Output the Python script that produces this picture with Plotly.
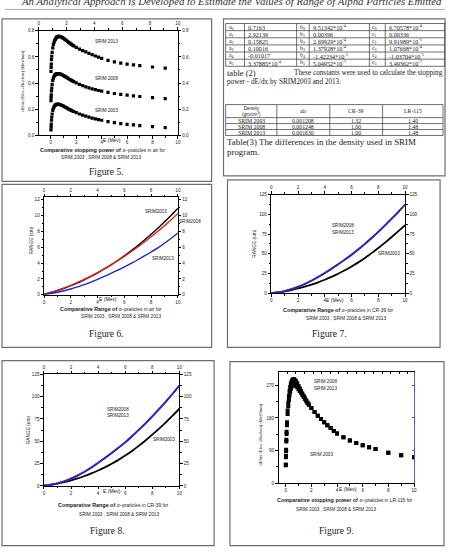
import plotly.graph_objects as go

W, H = 451, 552
SANS = "Liberation Sans, Arial, sans-serif"
SERIF = "Liberation Serif, Times New Roman, serif"

# ---------------- data ----------------
# Figure 5: stopping power of alpha particles in air (offset curves)
E_air = [0.01, 0.02, 0.03, 0.05, 0.07, 0.1, 0.15, 0.2, 0.25, 0.3, 0.35, 0.4, 0.45, 0.5,
         0.55, 0.6, 0.65, 0.7, 0.8, 0.9, 1.0, 1.1, 1.2, 1.3, 1.4, 1.5, 1.6, 1.7, 1.8, 2.0,
         2.25, 2.5, 2.75, 3.0, 3.25, 3.5, 3.75, 4.0, 4.5, 5.0, 5.5, 6.0, 6.5, 7.0, 8.0, 9.0]
air_2013 = [0.49, 0.52, 0.545, 0.58, 0.605, 0.635, 0.67, 0.695, 0.712, 0.725, 0.735, 0.743,
            0.749, 0.753, 0.756, 0.757, 0.757, 0.756, 0.753, 0.748, 0.742, 0.735, 0.728, 0.72,
            0.712, 0.705, 0.698, 0.691, 0.685, 0.673, 0.66, 0.649, 0.638, 0.627, 0.617, 0.607,
            0.598, 0.589, 0.574, 0.562, 0.552, 0.545, 0.539, 0.534, 0.523, 0.515]
air_2008 = [0.265, 0.29, 0.31, 0.34, 0.362, 0.39, 0.42, 0.438, 0.45, 0.458, 0.464, 0.468,
            0.47, 0.471, 0.472, 0.472, 0.471, 0.47, 0.467, 0.462, 0.457, 0.451, 0.445, 0.439,
            0.433, 0.427, 0.421, 0.416, 0.411, 0.401, 0.39, 0.38, 0.371, 0.363, 0.356, 0.349,
            0.343, 0.338, 0.328, 0.32, 0.313, 0.307, 0.302, 0.297, 0.288, 0.281]
air_2003 = [0.042, 0.065, 0.085, 0.115, 0.138, 0.163, 0.19, 0.207, 0.218, 0.226, 0.231, 0.234,
            0.236, 0.237, 0.237, 0.237, 0.236, 0.235, 0.232, 0.228, 0.223, 0.218, 0.212, 0.207,
            0.201, 0.196, 0.191, 0.186, 0.182, 0.173, 0.163, 0.154, 0.146, 0.139, 0.132, 0.126,
            0.12, 0.115, 0.105, 0.097, 0.09, 0.084, 0.079, 0.074, 0.066, 0.059]

# Figure 6: range in air (cm)
E_rng = [0, 0.5, 1, 1.5, 2, 2.5, 3, 3.5, 4, 4.5, 5, 5.5, 6, 6.5, 7, 7.5, 8, 8.5, 9, 9.5, 10]
rng_air_2003 = [0.05, 0.29, 0.54, 0.83, 1.15, 1.51, 1.9, 2.32, 2.77, 3.26, 3.78, 4.33, 4.92,
                5.55, 6.2, 6.9, 7.63, 8.39, 9.2, 10.04, 10.9]
rng_air_2008 = [0.05, 0.3, 0.57, 0.87, 1.2, 1.56, 1.95, 2.37, 2.81, 3.28, 3.78, 4.3, 4.85,
                5.43, 6.03, 6.66, 7.32, 8.0, 8.72, 9.47, 10.25]
rng_air_2013 = [0.03, 0.17, 0.33, 0.52, 0.74, 1.0, 1.28, 1.6, 1.95, 2.32, 2.7, 3.1, 3.52,
                3.96, 4.42, 4.9, 5.4, 5.92, 6.5, 7.13, 7.8]

# Figures 7 and 8: range in CR-39 (um)
rng_cr_2003 = [0.3, 1.14, 2.5, 4.17, 6.16, 8.46, 11.07, 14.0, 17.24, 20.8, 24.77, 29.16, 33.97,
               39.2, 44.85, 50.91, 57.4, 64.2, 71.31, 78.74, 86.48]
rng_cr_2008 = [0.3, 1.3, 2.9, 5.2, 8.2, 11.8, 15.9, 20.6, 25.8, 31.2, 36.8, 42.7, 48.8, 55.6,
               62.7, 70.1, 77.8, 86.0, 94.5, 103.3, 112.5]
rng_cr_2013 = [0.3, 1.3, 2.9, 5.2, 8.2, 11.8, 15.9, 20.6, 25.8, 31.2, 36.8, 42.7, 48.8, 55.6,
               62.7, 70.1, 77.8, 86.0, 94.5, 103.3, 112.5]

# Figure 9: stopping power in LR-115 (MeV/mm)
E_lr = [0.01, 0.02, 0.03, 0.05, 0.07, 0.1, 0.15, 0.2, 0.25, 0.3, 0.35, 0.4, 0.45, 0.5,
        0.55, 0.6, 0.65, 0.7, 0.8, 0.9, 1.0, 1.1, 1.2, 1.3, 1.4, 1.5, 1.6, 1.7, 1.8, 2.0,
        2.25, 2.5, 2.75, 3.0, 3.25, 3.5, 3.75, 4.0, 4.5, 5.0, 5.5, 6.0, 6.5, 7.0, 8.0, 9.0, 10.0]
lr_2008 = [52, 75, 92, 120, 142, 168, 200, 222, 240, 254, 265, 273, 279, 283, 285, 286, 286,
           285, 281, 275, 268, 261, 254, 247, 240, 234, 228, 222, 217, 207, 196, 186, 177,
           168, 160, 152, 144, 137, 127, 118, 111, 105, 99.5, 94.5, 84, 77, 71.5]
lr_2013 = [50, 72, 88, 115, 136, 160, 191, 212, 229, 242, 252, 260, 265, 269, 271, 272, 272,
           271, 268, 264, 259, 254, 249, 243, 238, 232, 227, 221, 216, 207, 196, 186, 177,
           168, 160, 152, 144, 137, 127, 118, 111, 105, 99.5, 94.5, 84, 77, 71.5]

x_ticks = [0, 2, 4, 6, 8, 10]

# Table (2) constants
tab2_a_names = ["a<sub>0</sub>", "a<sub>1</sub>", "a<sub>2</sub>", "a<sub>3</sub>", "a<sub>4</sub>", "a<sub>5</sub>"]
tab2_a_vals = ["0.7163", "2.92139", "0.15825", "0.10016", "-0.01017", "3.37885*10<sup>-4</sup>"]
tab2_b_names = ["b<sub>0</sub>", "b<sub>1</sub>", "b<sub>2</sub>", "b<sub>3</sub>", "b<sub>4</sub>", "b<sub>5</sub>"]
tab2_b_vals = ["9.51342*10<sup>-4</sup>", "0.00396", "2.69929*10<sup>-4</sup>",
               "1.37928*10<sup>-4</sup>", "-1.42234*10<sup>-5</sup>", "5.04952*10<sup>-7</sup>"]
tab2_c_names = ["c<sub>0</sub>", "c<sub>1</sub>", "c<sub>2</sub>", "c<sub>3</sub>", "c<sub>4</sub>", "c<sub>5</sub>"]
tab2_c_vals = ["6.70578*10<sup>-4</sup>", "0.00336", "9.91989*10<sup>-5</sup>",
               "1.07668*10<sup>-4</sup>", "-1.03704*10<sup>-5</sup>", "3.49362*10<sup>-7</sup>"]

# Table (3) densities
tab3_header = ["Density<br>(gm/cm<sup>3</sup>)", "air", "CR-39", "LR-115"]
tab3_rows = ["SRIM 2003", "SRIM 2008", "SRIM 2013"]
tab3_air = ["0.001208", "0.001248", "0.001630"]
tab3_cr39 = ["1.32", "1.00", "1.00"]
tab3_lr115 = ["1.40", "1.48", "1.48"]

# ---------------- helpers ----------------
fig = go.Figure()
ann, shapes, lay = [], [], {}


def PX(x):
    return x / W


def PY(y):
    return 1 - y / H


def text(x, y, s, size, family=SANS, xa="center", ya="middle", angle=0, color="#1a1a1a"):
    ann.append(dict(x=PX(x), y=PY(y), xref="paper", yref="paper", text=s, showarrow=False,
                    font=dict(size=size, family=family, color=color), xanchor=xa, yanchor=ya,
                    textangle=angle, borderpad=0))


def line(x0, y0, x1, y1, color="#444", width=0.8):
    shapes.append(dict(type="line", xref="paper", yref="paper", x0=PX(x0), y0=PY(y0),
                       x1=PX(x1), y1=PY(y1), line=dict(color=color, width=width)))


def rect(l, t, r, b, color="#6e6e6e", width=1.2):
    shapes.append(dict(type="rect", xref="paper", yref="paper", x0=PX(l), x1=PX(r),
                       y0=PY(b), y1=PY(t), line=dict(color=color, width=width),
                       fillcolor="rgba(0,0,0,0)"))


def ref(c, n):
    return c if n == 1 else f"{c}{n}"


def key(c, n):
    return f"{c}axis" if n == 1 else f"{c}axis{n}"


def ax(**kw):
    d = dict(showline=True, linecolor="black", linewidth=0.9, showgrid=False, zeroline=False,
             ticks="outside", ticklen=2.5, tickwidth=0.8, tickcolor="black",
             tickfont=dict(size=4.6, family=SANS, color="#222"), fixedrange=True)
    d.update(kw)
    return d


def panel(i, L, R, T, B, xb_range, xt_range, y_range, y_dtick, y_minor, y_fmt="",
          top_kw=None, right_kw=None):
    nb, nt = 2 * i + 1, 2 * i + 2
    lay[key("x", nb)] = ax(domain=[PX(L), PX(R)], range=xb_range, anchor=ref("y", nb),
                           side="bottom", tickmode="array", tickvals=x_ticks,
                           minor=dict(ticks="outside", ticklen=1.5, dtick=1, tick0=0,
                                      tickcolor="black"))
    tkw = dict(range=xt_range, anchor=ref("y", nb), overlaying=ref("x", nb), side="top",
               tickmode="array", tickvals=x_ticks,
               minor=dict(ticks="outside", ticklen=1.5, dtick=1, tick0=0, tickcolor="black"))
    if top_kw:
        tkw.update(top_kw)
    lay[key("x", nt)] = ax(**tkw)
    lay[key("y", nb)] = ax(domain=[PY(B), PY(T)], range=y_range, anchor=ref("x", nb),
                           side="left", tick0=0, dtick=y_dtick, tickformat=y_fmt,
                           minor=dict(ticks="outside", ticklen=1.5, dtick=y_minor, tick0=0,
                                      tickcolor="black"))
    rkw = dict(range=y_range, anchor=ref("x", nb), overlaying=ref("y", nb), side="right",
               tick0=0, dtick=y_dtick, tickformat=y_fmt,
               minor=dict(ticks="outside", ticklen=1.5, dtick=y_minor, tick0=0,
                          tickcolor="black"))
    if right_kw:
        rkw.update(right_kw)
    lay[key("y", nt)] = ax(**rkw)
    fig.add_trace(go.Scatter(x=[xt_range[0]], y=[y_range[0]], mode="markers",
                             marker=dict(opacity=0), xaxis=ref("x", nt), yaxis=ref("y", nt),
                             hoverinfo="skip", showlegend=False))
    return ref("x", nb), ref("y", nb)


def caption(cx1, y1, bold, rest, cx2, y2, cxf, yf, label):
    text(cx1, y1, f"<b>{bold}</b> <span style='font-size:4.9px;font-weight:normal'>{rest}</span>", 5.4)
    text(cx2, y2, "SRIM 2003 , SRIM 2008 &amp; SRIM 2013", 4.7)
    text(cxf, yf, label, 9.6, SERIF)


# ---------------- header ----------------
text(233, -0.8, "<i>An Analytical Approach is Developed to Estimate the Values of Range of Alpha Particles Emitted</i>",
     10.8, SERIF, color="#333")
line(4, 7.5, 448, 7.5, color="#9a9a9a", width=0.8)

# ---------------- boxes ----------------
rect(1, 17, 212.5, 181)
rect(224.5, 17, 448, 175.5)
rect(1, 184, 212.5, 348.5)
rect(228.5, 179.5, 443, 348.5)
rect(1, 362, 215, 548.5)
rect(231, 363, 447, 548.5)

# ---------------- Figure 5 ----------------
xa_, ya_ = panel(0, 38, 178.5, 29, 134.5, [-0.96, 10], [0, 10], [0, 0.8005], 0.2, 0.1, ".1f")
for ser in (air_2013, air_2008, air_2003):
    fig.add_trace(go.Scatter(x=E_air, y=ser, mode="markers", xaxis=xa_, yaxis=ya_,
                             marker=dict(symbol="square", size=3.2, color="black", line=dict(width=0)),
                             showlegend=False, hoverinfo="skip"))
text(106, 40, "SRIM 2013", 4.6)
text(106, 77.3, "SRIM 2008", 4.6)
text(106, 109.3, "SRIM 2003", 4.6)
text(21.7, 80, "dE/dx (Elec.+Nuclear) (Mev/mm)", 4.2, angle=-90)
text(112, 139, "E (Mev)", 5)
caption(103, 149, "Comparative stopping power of", "α–praticles in air for", 101, 157, 106, 171, "Figure 5.")

# ---------------- Figure 6 ----------------
xa_, ya_ = panel(1, 43.5, 178.5, 197, 295.5, [0, 10], [0, 10], [0, 12.3], 2, 1)
for ser, col in ((rng_air_2003, "#000000"), (rng_air_2008, "#e3211c"), (rng_air_2013, "#1f22d4")):
    fig.add_trace(go.Scatter(x=E_rng, y=ser, mode="lines", xaxis=xa_, yaxis=ya_,
                             line=dict(color=col, width=1.4, shape="spline"),
                             showlegend=False, hoverinfo="skip"))
text(156.5, 211.3, "SRIM2003", 4.6)
text(191, 221.2, "SRIM2008", 4.6)
text(163, 258.7, "SRIM2013", 4.6)
text(31, 241, "RANGE (cm)", 4.8, angle=-90)
text(108, 299.5, "E (Mev)", 5)
caption(110.7, 310, "Comparative Range of", "α–praticles in air for", 121.3, 317.3, 106.3, 334.3, "Figure 6.")

# ---------------- Figure 7 ----------------
xa_, ya_ = panel(2, 272.7, 407.7, 194.3, 294, [0, 10], [0, 10], [0, 125.1], 25, 12.5)
for ser, col, w in ((rng_cr_2003, "#000000", 1.8), (rng_cr_2008, "#d0201c", 1.8), (rng_cr_2013, "#2b22d2", 1.8)):
    fig.add_trace(go.Scatter(x=E_rng, y=ser, mode="lines", xaxis=xa_, yaxis=ya_,
                             line=dict(color=col, width=w, shape="spline"),
                             showlegend=False, hoverinfo="skip"))
text(345, 225.7, "SRIM2008", 4.6)
text(345, 232.3, "SRIM2013", 4.6)
text(391.7, 254, "SRIM2003", 4.6)
text(255, 243.3, "RANGE (um)", 4.8, angle=-90)
text(337, 301, "E (Mev)", 5)
caption(340.7, 311, "Comparative Range of", "α–praticles in CR-39 for", 347.8, 319, 331, 334.3, "Figure 7.")

# ---------------- Figure 8 ----------------
xa_, ya_ = panel(3, 43.3, 180, 375.7, 488.3, [0, 10], [0, 10], [0, 125.1], 25, 12.5)
for ser, col, w in ((rng_cr_2003, "#000000", 1.8), (rng_cr_2008, "#d0201c", 1.8), (rng_cr_2013, "#2b22d2", 1.8)):
    fig.add_trace(go.Scatter(x=E_rng, y=ser, mode="lines", xaxis=xa_, yaxis=ya_,
                             line=dict(color=col, width=w, shape="spline"),
                             showlegend=False, hoverinfo="skip"))
text(118, 411, "SRIM2008", 4.6)
text(118, 417.7, "SRIM2013", 4.6)
text(164.7, 441.7, "SRIM2003", 4.6)
text(27.3, 432, "RANGE (um)", 4.8, angle=-90)
text(112, 493.3, "E (Mev)", 5)
caption(113.3, 507.3, "Comparative Range of", "α–praticles in CR-39 for", 119.5, 516.7, 107, 533.3, "Figure 8.")

# ---------------- Figure 9 ----------------
xa_, ya_ = panel(4, 280, 416.7, 373.3, 485.7, [-0.56, 10], [0, 15.7], [0, 306.5], 90, 45,
                 top_kw=dict(tickmode="linear", tick0=0, dtick=1, showticklabels=False,
                             ticks="inside", minor=dict(ticks="")),
                 right_kw=dict(showticklabels=False, linecolor="#5b52d6", tickcolor="#5b52d6",
                               ticks="inside", minor=dict(ticks="")))
for ser in (lr_2013, lr_2008):
    fig.add_trace(go.Scatter(x=E_lr, y=ser, mode="markers", xaxis=xa_, yaxis=ya_,
                             marker=dict(symbol="square", size=4, color="black", line=dict(width=0)),
                             showlegend=False, hoverinfo="skip"))
text(327, 383.3, "SRIM 2008", 4.6)
text(327, 390, "SRIM 2013", 4.6)
text(323.3, 456.7, "SRIM 2003", 4.6)
text(261.7, 436, "dE/dx (Elec.+Nuclear) (MeV/mm)", 4.2, angle=-90)
text(350, 491.7, "E (Mev)", 5)
caption(346.7, 502.3, "Comparative stopping power of", "α–praticles in LR-115 for", 337.5, 511.7, 338.7, 533.3, "Figure 9.")

# ---------------- Table (2) ----------------
t2_cols = [226.7, 245.7, 298.3, 311, 371.7, 387.7, 447.7]
t2_rows = [21.7, 28.9, 36.1, 43.3, 50.5, 57.7, 64.9]
for c in t2_cols:
    line(c, t2_rows[0], c, t2_rows[-1], color="#333", width=0.7)
for r in t2_rows:
    line(t2_cols[0], r, t2_cols[-1], r, color="#333", width=0.7)
groups = [(tab2_a_names, tab2_a_vals), (tab2_b_names, tab2_b_vals), (tab2_c_names, tab2_c_vals)]
for g, (names, vals) in enumerate(groups):
    for k in range(6):
        yc = (t2_rows[k] + t2_rows[k + 1]) / 2
        text(t2_cols[2 * g] + 2, yc, names[k], 5.8, SERIF, xa="left")
        text(t2_cols[2 * g + 1] + 3, yc, vals[k], 6.2, SERIF, xa="left")
text(226.7, 71.7, "table (2)", 8.5, SERIF, xa="left")
text(447, 71.9, "These constants were used to calculate the stopping", 7.2, SERIF, xa="right")
text(226.7, 80.9, "power - dE/dx by SRIM2003 and 2013.", 7.2, SERIF, xa="left")

# ---------------- Table (3) ----------------
t3_cols = [226.7, 278.3, 331.7, 385, 446]
t3_rows = [103.5, 116.7, 122.7, 128.7, 134.7]
for c in t3_cols:
    line(c, t3_rows[0], c, t3_rows[-1], color="#333", width=0.7)
for r in t3_rows:
    line(t3_cols[0], r, t3_cols[-1], r, color="#333", width=0.7)
for j, h in enumerate(tab3_header):
    xc = (t3_cols[j] + t3_cols[j + 1]) / 2
    yc = (t3_rows[0] + t3_rows[1]) / 2
    if j == 0:
        text(xc, yc, h, 4.6, SANS)
    else:
        text(xc, yc, h, 5.8, SERIF)
for k in range(3):
    yc = (t3_rows[k + 1] + t3_rows[k + 2]) / 2
    for j, s in enumerate([tab3_rows[k], tab3_air[k], tab3_cr39[k], tab3_lr115[k]]):
        xc = (t3_cols[j] + t3_cols[j + 1]) / 2
        text(xc, yc, s, 5.8, SERIF)
text(226.7, 141.7, "Table(3) The differences in the density used in SRIM", 8.9, SERIF, xa="left")
text(226.7, 151.7, "program.", 8.9, SERIF, xa="left")

fig.update_layout(width=W, height=H, margin=dict(l=0, r=0, t=0, b=0),
                  paper_bgcolor="white", plot_bgcolor="white", showlegend=False,
                  annotations=ann, shapes=shapes, **lay)
fig.write_html("out.html")
